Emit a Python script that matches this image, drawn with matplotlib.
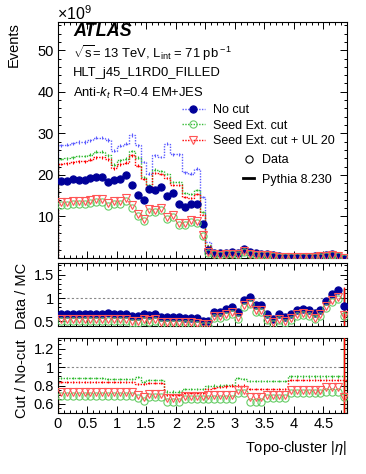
import numpy as np
import matplotlib
matplotlib.use('Agg')
import matplotlib.pyplot as plt
from matplotlib.lines import Line2D
from matplotlib.ticker import MultipleLocator, NullFormatter

plt.rcParams['font.family'] = ['Liberation Sans', 'DejaVu Sans']
plt.rcParams['mathtext.fontset'] = 'custom'
plt.rcParams['mathtext.rm'] = 'Liberation Sans'
plt.rcParams['mathtext.it'] = 'Liberation Sans:italic'

# Topo-cluster |eta| binning (0.1 wide bins up to 4.9)
eta_edges = np.round(np.arange(0, 4.91, 0.1), 2)

# Events (x1e9), data, no cut
data_nocut = [18.5, 18.5, 19.0, 18.8, 18.8, 19.2, 19.6, 19.5, 18.3, 18.8, 19.0, 20.0, 17.6,
              15.1, 13.9, 16.5, 16.3, 17.0, 15.0, 15.6, 12.9, 12.3, 13.1, 13.0, 8.1,
              1.96, 1.3, 1.15, 1.3, 1.4, 1.15, 2.1, 1.55, 1.15, 1.07, 1.0, 0.75, 0.5,
              0.35, 0.35, 0.35, 0.35, 0.35, 0.43, 0.5, 0.75, 0.9, 0.5, 0.1]
# Events (x1e9), Pythia 8.230, no cut
mc_nocut = [27.1, 27.3, 27.6, 27.9, 27.9, 28.3, 29.0, 29.0, 28.4, 25.8, 27.0, 27.5, 29.6,
            27.1, 23.1, 20.3, 24.7, 24.3, 27.5, 25.0, 25.0, 20.6, 20.3, 21.5, 14.6,
            3.84, 1.83, 1.62, 1.71, 1.75, 1.67, 2.21, 1.52, 1.34, 1.24, 1.52, 1.34, 0.76,
            0.59, 0.53, 0.47, 0.45, 0.47, 0.63, 0.67, 0.81, 0.83, 0.42, 0.12]

# Cut / No-cut fractions
frac_seed_data = [0.69] * 13 + [0.665, 0.635, 0.675, 0.675, 0.675, 0.625, 0.625, 0.625,
                  0.655, 0.655, 0.655, 0.655, 0.655, 0.655, 0.655, 0.655, 0.655,
                  0.715, 0.715, 0.625, 0.625, 0.625, 0.66, 0.66, 0.66, 0.66,
                  0.715, 0.715, 0.715, 0.715, 0.715, 0.715, 0.735, 0.735, 0.735, 0.67]
frac_ul_data = [0.725] * 13 + [0.70, 0.67, 0.71, 0.71, 0.71, 0.66, 0.66, 0.66,
                0.69, 0.69, 0.69, 0.69, 0.70, 0.70, 0.70, 0.70, 0.70,
                0.755, 0.755, 0.67, 0.67, 0.67, 0.70, 0.70, 0.70, 0.70,
                0.755, 0.755, 0.755, 0.755, 0.755, 0.755, 0.78, 0.78, 0.78, 0.67]
frac_seed_mc = [0.88] * 8 + [0.87] * 5 + [0.89, 0.84, 0.86, 0.86, 0.86, 0.735, 0.735, 0.735,
                0.76, 0.76, 0.76, 0.76, 0.79, 0.80, 0.80, 0.81, 0.81, 0.88, 0.87,
                0.85, 0.85, 0.85, 0.85, 0.85, 0.85, 0.85,
                0.90, 0.90, 0.90, 0.90, 0.90, 0.90, 0.90, 0.90, 0.90, 0.90]
frac_ul_mc = [0.835] * 13 + [0.82, 0.82, 0.83, 0.83, 0.83, 0.70, 0.70, 0.70,
              0.715, 0.715, 0.715, 0.715, 0.76, 0.77, 0.78, 0.79, 0.80, 0.80, 0.80,
              0.76, 0.76, 0.76, 0.76, 0.76, 0.76, 0.76,
              0.86, 0.86, 0.86, 0.86, 0.86, 0.86, 0.86, 0.86, 0.86, 0.86]

# Data / MC ratios as shown in the middle panel
ratio_nocut = [0.66] * 8 + [0.68, 0.66, 0.66, 0.66, 0.62, 0.62, 0.66, 0.64, 0.66,
               0.59, 0.59, 0.59, 0.59, 0.58, 0.58, 0.57, 0.51,
               0.51, 0.71, 0.71, 0.76, 0.80, 0.69, 0.95, 1.02, 0.86, 0.86, 0.66, 0.56,
               0.66, 0.59, 0.66, 0.75, 0.77, 0.75, 0.68, 0.75, 0.93, 1.09, 1.18, 0.82]
ratio_seed = [0.50] * 8 + [0.51, 0.50, 0.50, 0.50, 0.47, 0.47, 0.50, 0.49, 0.50,
              0.45, 0.45, 0.45, 0.45, 0.44, 0.44, 0.43, 0.41,
              0.41, 0.57, 0.57, 0.62, 0.65, 0.56, 0.80, 0.87, 0.71, 0.71, 0.52, 0.45,
              0.52, 0.47, 0.53, 0.62, 0.63, 0.61, 0.54, 0.61, 0.78, 0.92, 0.98, 0.62]
ratio_ul = [0.54] * 8 + [0.55, 0.54, 0.54, 0.54, 0.51, 0.51, 0.54, 0.53, 0.54,
            0.49, 0.49, 0.49, 0.49, 0.48, 0.48, 0.47, 0.44,
            0.44, 0.61, 0.61, 0.66, 0.69, 0.60, 0.84, 0.90, 0.75, 0.75, 0.56, 0.48,
            0.56, 0.50, 0.57, 0.66, 0.67, 0.65, 0.58, 0.65, 0.82, 0.95, 1.02, 0.64]

data_nocut = np.array(data_nocut)
mc_nocut = np.array(mc_nocut)
data_seed = data_nocut * np.array(frac_seed_data)
data_ul = data_nocut * np.array(frac_ul_data)
mc_seed = mc_nocut * np.array(frac_seed_mc)
mc_ul = mc_nocut * np.array(frac_ul_mc)

centers = 0.5 * (eta_edges[:-1] + eta_edges[1:])
nb = len(centers)

# only the very forward bin has a visible statistical error in the ratio panels
err_r_nocut = np.zeros(nb)
err_r_nocut[-1] = 0.37
err_r_cut = np.zeros(nb)
err_r_cut[-1] = 0.6
err_c_data = np.zeros(nb)
err_c_data[-1] = 0.7
err_c_mc = np.full(nb, 0.012)
err_c_mc[-1] = 0.6

blue_d, blue_l = '#000099', '#5c5cff'
green_d, green_l = '#33bb33', '#66cc66'
red_d, red_l = '#ff0000', '#ff5555'

series = [
    (data_nocut, mc_nocut, ratio_nocut, err_r_nocut, blue_d, blue_l, 'o', 'full', 'No cut'),
    (data_seed, mc_seed, ratio_seed, err_r_cut, green_l, green_d, 'o', 'none', 'Seed Ext. cut'),
    (data_ul, mc_ul, ratio_ul, err_r_cut, red_l, red_d, 'v', 'none', 'Seed Ext. cut + UL 20'),
]
MS = 5.2

fig = plt.figure(figsize=(3.66, 4.74), dpi=100)
W, H = 366, 474


def pix_axes(x0, y0, x1, y1):
    return fig.add_axes([x0 / W, 1 - y1 / H, (x1 - x0) / W, (y1 - y0) / H])


ax = pix_axes(58, 22, 347, 258)
ax_r = pix_axes(58, 263, 347, 326)
ax_c = pix_axes(58, 338, 347, 413)

for d, m, r, re, cm, cl, mk, fs, lab in series:
    ax.stairs(m, eta_edges, color=cl, ls=(0, (1, 1)), lw=1.0, zorder=2)
    ax.errorbar(centers, m, yerr=0.012 * m + 0.05, fmt='none', ecolor=cl, elinewidth=0.8, zorder=2)
for d, m, r, re, cm, cl, mk, fs, lab in series:
    mfc = cm if fs == 'full' else 'none'
    ax.plot(centers, d, ls='none', marker=mk, ms=MS, mfc=mfc, mec=cm, mew=0.8, zorder=3)

# Data / MC
ax_r.axhline(1, color='#888888', ls=(0, (2, 2)), lw=0.8, zorder=1)
for d, m, r, re, cm, cl, mk, fs, lab in series:
    mfc = cm if fs == 'full' else 'none'
    ax_r.errorbar(centers, r, yerr=re, ls='none', marker=mk, ms=MS, mfc=mfc, mec=cm,
                  mew=0.8, ecolor=cm if fs == 'full' else cl, elinewidth=1.0, zorder=3)

# Cut / No-cut
ax_c.axhline(1, color='#888888', ls=(0, (2, 2)), lw=0.8, zorder=1)
for d, m, r, re, cm, cl, mk, fs, lab in series[1:]:
    fm = m / mc_nocut
    ax_c.stairs(fm, eta_edges, color=cl, ls=(0, (1, 1)), lw=1.0, zorder=2)
    ax_c.errorbar(centers, fm, yerr=err_c_mc, fmt='none', ecolor=cl,
                  elinewidth=0.8, ls=':', zorder=2)
for d, m, r, re, cm, cl, mk, fs, lab in series[1:]:
    ax_c.errorbar(centers, d / data_nocut, yerr=err_c_data, ls='none', marker=mk, ms=MS,
                  mfc='none', mec=cm, mew=0.8, ecolor=cl, elinewidth=1.0, zorder=3)

FS = 10.5
for a in (ax, ax_r, ax_c):
    a.set_xlim(0, 4.9)
    a.xaxis.set_major_locator(MultipleLocator(0.5))
    a.xaxis.set_minor_locator(MultipleLocator(0.1))
    a.tick_params(which='both', direction='in', top=True, right=True, labelsize=FS,
                  width=0.7, pad=3)
    a.tick_params(which='major', length=5)
    a.tick_params(which='minor', length=2.5)
    for s in a.spines.values():
        s.set_linewidth(0.8)

ax.set_ylim(0, 56.8)
ax.yaxis.set_minor_locator(MultipleLocator(2))
ax.set_yticks([10, 20, 30, 40, 50])
ax.xaxis.set_major_formatter(NullFormatter())

ax_r.set_ylim(0.4, 1.75)
ax_r.yaxis.set_minor_locator(MultipleLocator(0.1))
ax_r.set_yticks([0.5, 1.0, 1.5])
ax_r.set_yticklabels(['0.5', '1', '1.5'])
ax_r.xaxis.set_major_formatter(NullFormatter())

ax_c.set_ylim(0.5, 1.32)
ax_c.yaxis.set_minor_locator(MultipleLocator(0.05))
ax_c.set_yticks([0.6, 0.8, 1.0, 1.2])
ax_c.set_yticklabels(['0.6', '0.8', '1', '1.2'])
ax_c.set_xticks(np.arange(0, 4.6, 0.5))
ax_c.set_xticklabels(['0', '0.5', '1', '1.5', '2', '2.5', '3', '3.5', '4', '4.5'])

# labels
fig.text(14 / W, 1 - 22 / H, 'Events', rotation=90, ha='center', va='top', fontsize=FS)
fig.text(22 / W, 1 - 263 / H, 'Data / MC', rotation=90, ha='center', va='top', fontsize=FS)
fig.text(22 / W, 1 - 339 / H, 'Cut / No-cut', rotation=90, ha='center', va='top', fontsize=FS)
fig.text(347 / W, 1 - 448 / H, r'Topo-cluster |$\eta$|', ha='right', va='center', fontsize=FS)
fig.text(57 / W, 1 - 14 / H, r'$\times$10$^{9}$', ha='left', va='center', fontsize=11.5)

fig.text(73 / W, 1 - 32 / H, 'ATLAS', fontsize=13, fontweight='bold', style='italic',
         ha='left', va='center')
fig.text(73 / W, 1 - 53 / H, r'$\sqrt{\rm s}$= 13 TeV, L$_{\rm int}$ = 71 pb$^{\rm -1}$',
         fontsize=9.4, ha='left', va='center')
fig.text(73 / W, 1 - 73 / H, 'HLT_j45_L1RD0_FILLED', fontsize=9.4, ha='left', va='center')
fig.text(73 / W, 1 - 93 / H, r'Anti-$k_{t}$ R=0.4 EM+JES', fontsize=9.4, ha='left', va='center')

handles = []
for d, m, r, re, cm, cl, mk, fs, lab in series:
    mfc = cm if fs == 'full' else 'none'
    handles.append(Line2D([], [], color=cl, ls=(0, (1, 1)), lw=1.0, marker=mk, ms=MS,
                          mfc=mfc, mec=cm, mew=0.8))
leg1 = ax.legend(handles, [s[-1] for s in series], loc='upper left',
                 bbox_to_anchor=(182 / W, 1 - 104 / H), bbox_transform=fig.transFigure,
                 frameon=False, fontsize=9, handlelength=1.8, handletextpad=0.7,
                 labelspacing=0.3, borderpad=0, borderaxespad=0)
ax.add_artist(leg1)
h2 = [Line2D([], [], ls='none', marker='o', ms=MS, mfc='none', mec='black', mew=0.8),
      Line2D([], [], color='black', lw=2.0)]
ax.legend(h2, ['Data', 'Pythia 8.230'], loc='upper left',
          bbox_to_anchor=(243 / W, 1 - 154 / H), bbox_transform=fig.transFigure,
          frameon=False, fontsize=9, handlelength=0.9, handletextpad=0.6,
          labelspacing=0.6, borderpad=0, borderaxespad=0)

fig.savefig('out.png', dpi=100)
